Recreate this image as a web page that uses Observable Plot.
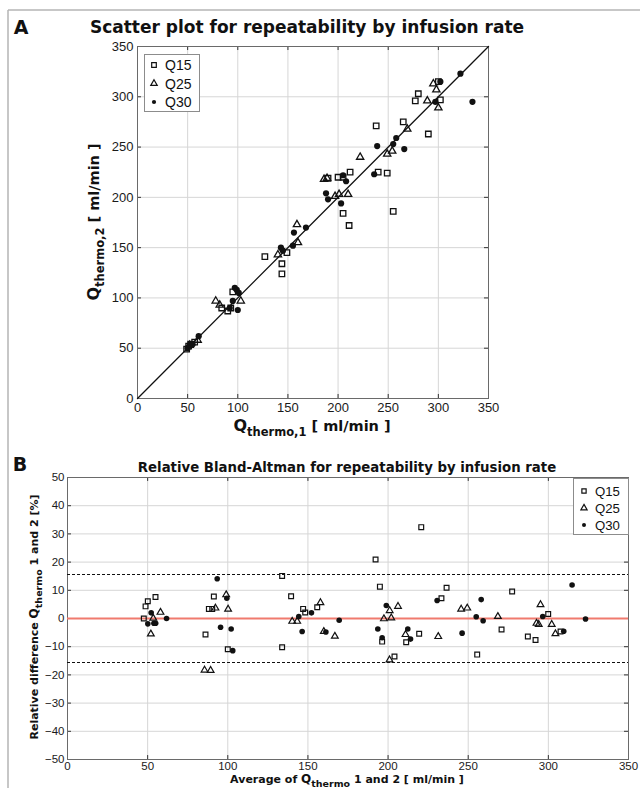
<!DOCTYPE html>
<html><head><meta charset="utf-8">
<script src="https://cdn.jsdelivr.net/npm/d3@7"></script>
<script src="https://cdn.jsdelivr.net/npm/@observablehq/plot@0.6"></script>
<style>
body{margin:0;background:#fff;}
#wrap{position:relative;width:640px;height:788px;overflow:hidden;background:#fff;}
#wrap svg{display:block;}
#overlay{position:absolute;left:0;top:0;pointer-events:none;}
</style></head><body><div id="wrap"></div>
<script>
// ---------- data ----------
const seriesNames = ["Q15", "Q25", "Q30"];

// Panel A: Qthermo,1 vs Qthermo,2 (ml/min)
const q15_thermo1 = [49, 51, 53, 57, 84, 90, 93, 95, 127, 144, 144, 149, 190, 200, 205, 212, 205, 211, 238, 240, 249, 255, 265, 277, 280, 290, 302, 300];
const q15_thermo2 = [49, 52, 54, 56, 90, 87, 90, 106, 141, 134, 124, 145, 219, 220, 220, 225, 184, 172, 271, 225, 224, 186, 275, 296, 303, 263, 297, 315];
const q25_thermo1 = [52, 60, 78, 82, 103, 140, 160, 159, 186, 189, 197, 201, 210, 222, 249, 254, 269, 289, 295, 298, 300];
const q25_thermo2 = [53, 58, 97, 93, 97, 143, 155, 173, 218, 219, 201, 203, 203, 240, 243, 246, 268, 296, 313, 307, 289];
const q30_thermo1 = [50, 52, 55, 61, 92, 95, 97, 99, 100, 101, 143, 145, 155, 156, 168, 188, 190, 203, 205, 208, 236, 239, 255, 258, 266, 297, 302, 322, 334];
const q30_thermo2 = [50, 53, 54, 62, 90, 97, 110, 108, 88, 105, 150, 147, 152, 165, 170, 204, 198, 194, 222, 216, 223, 251, 253, 259, 248, 295, 315, 323, 295];

// Panel B: Bland-Altman (mean ml/min, relative difference %)
const q15_mean = [47.6, 48.7, 50.1, 54.9, 86.1, 88.2, 90.3, 91.3, 100, 133.9, 133.9, 139.5, 147, 148.3, 155.8, 192.2, 194.9, 196.3, 204, 211.3, 219.4, 220.7, 233.3, 236.5, 255.6, 270.8, 277.4, 287.2, 292, 299.9, 307.6];
const q15_diff = [0, 4.3, 6.1, 7.6, -5.7, 3.4, 3.4, 7.8, -10.9, 15.1, -10.2, 7.9, 3.4, 2.1, 4.0, 20.9, 11.3, -8.2, -13.5, -8.4, -5.4, 32.4, 7.2, 10.9, -12.8, -3.9, 9.6, -6.4, -7.6, 1.6, -4.6];
const q25_mean = [52, 53.5, 58, 85.5, 89.3, 92.3, 99, 100.2, 140.2, 143.3, 157.8, 159.9, 166.8, 197.4, 200.9, 201, 202, 206.2, 210.9, 231.3, 245.6, 249.4, 268.5, 292.6, 294, 295.1, 302.1, 304.4];
const q25_diff = [-5.5, 0.1, 2.2, -18.3, -18.4, 3.7, 8.4, 3.3, -1.0, -1.0, 5.6, -4.6, -6.3, -0.1, -14.7, 2.8, 0.2, 4.3, -5.7, -6.4, 3.3, 3.7, 0.7, -1.7, -2.1, 4.9, -2.1, -5.4];
const q30_mean = [50.1, 52.2, 53.9, 55.0, 61.8, 93.4, 95.5, 99.4, 102.1, 103.1, 144.3, 146.4, 152.2, 161.2, 169.5, 193.6, 196.3, 198.9, 212.3, 214, 230.6, 246.2, 255, 258.1, 259.3, 296.5, 309.6, 314.8, 323.2];
const q30_diff = [-1.9, 2.0, -1.7, -1.7, 0, 14.1, -3.1, 7.2, -3.7, -11.4, 0.7, -4.6, 2.0, -4.8, -0.6, -3.7, -6.8, 4.6, -3.7, -7.3, 6.4, -5.2, 0.6, 6.7, -0.8, 0.7, -4.5, 11.9, -0.2];

const ticksQ = [0, 50, 100, 150, 200, 250, 300, 350];
const ticksPct = [-50, -40, -30, -20, -10, 0, 10, 20, 30, 40, 50];
const identityLine = [0, 350];
const baBias = [0];
const baLimits = [15.6, -15.6];

// ---------- helpers ----------
const pairs = (xs, ys) => xs.map((x, i) => ({x, y: ys[i]}));
const gridColor = "#d6d6d6";
const frameColor = "#6a6a6a";
const tickFont = "'Liberation Sans', Arial, sans-serif";
const boldFont = "'DejaVu Sans', Verdana, sans-serif";

const wrap = document.getElementById("wrap");

// ---------- Panel A ----------
const plotA = Plot.plot({
  width: 640, height: 440,
  marginLeft: 137, marginRight: 152, marginTop: 46, marginBottom: 42,
  x: {domain: [0, 350], label: null},
  y: {domain: [0, 350], label: null},
  style: {fontFamily: tickFont, fontSize: "13px", color: "#1a1a1a", background: "white"},
  marks: [
    Plot.gridX(ticksQ, {stroke: gridColor, strokeOpacity: 1}),
    Plot.gridY(ticksQ, {stroke: gridColor, strokeOpacity: 1}),
    Plot.ruleX(ticksQ, {x: d => d, y1: 0, y2: 4, stroke: "#333"}),
    Plot.ruleX(ticksQ, {x: d => d, y1: 346, y2: 350, stroke: "#333"}),
    Plot.ruleY(ticksQ, {y: d => d, x1: 0, x2: 4, stroke: "#333"}),
    Plot.ruleY(ticksQ, {y: d => d, x1: 346, x2: 350, stroke: "#333"}),
    Plot.frame({stroke: frameColor}),
    Plot.axisX(ticksQ, {tickSize: 0, tickPadding: 4, label: null}),
    Plot.axisY(ticksQ, {tickSize: 0, tickPadding: 4, label: null}),
    Plot.line(identityLine.map(v => [v, v]), {stroke: "#111", strokeWidth: 1.3}),
    Plot.dot(pairs(q15_thermo1, q15_thermo2), {x: "x", y: "y", symbol: "square", r: 3.1, stroke: "#111", strokeWidth: 1.3, fill: "none"}),
    Plot.dot(pairs(q25_thermo1, q25_thermo2), {x: "x", y: "y", symbol: "triangle", r: 2.7, stroke: "#111", strokeWidth: 1.3, fill: "none"}),
    Plot.dot(pairs(q30_thermo1, q30_thermo2), {x: "x", y: "y", symbol: "circle", r: 3.1, fill: "#111", stroke: "none"})
  ]
});
wrap.appendChild(plotA);

// ---------- Panel B ----------
const plotB = Plot.plot({
  width: 640, height: 348,
  marginLeft: 67, marginRight: 12, marginTop: 37, marginBottom: 29,
  x: {domain: [0, 350], label: null},
  y: {domain: [-50, 50], label: null},
  style: {fontFamily: tickFont, fontSize: "11.5px", color: "#1a1a1a", background: "white"},
  marks: [
    Plot.gridX(ticksQ, {stroke: gridColor, strokeOpacity: 1}),
    Plot.gridY(ticksPct, {stroke: gridColor, strokeOpacity: 1}),
    Plot.ruleX(ticksQ, {x: d => d, y1: -50, y2: -48.6, stroke: "#333"}),
    Plot.ruleX(ticksQ, {x: d => d, y1: 48.6, y2: 50, stroke: "#333"}),
    Plot.ruleY(ticksPct, {y: d => d, x1: 0, x2: 2.5, stroke: "#333"}),
    Plot.ruleY(ticksPct, {y: d => d, x1: 347.5, x2: 350, stroke: "#333"}),
    Plot.frame({stroke: frameColor}),
    Plot.axisX(ticksQ, {tickSize: 0, tickPadding: 2, label: null}),
    Plot.axisY(ticksPct, {tickSize: 0, tickPadding: 3, label: null, tickFormat: d => d < 0 ? "\u2212" + Math.abs(d) : String(d)}),
    Plot.ruleY(baLimits, {stroke: "#111", strokeWidth: 1.1, strokeDasharray: "3,2"}),
    Plot.ruleY(baBias, {stroke: "#f07a6e", strokeWidth: 1.8}),
    Plot.dot(pairs(q15_mean, q15_diff), {x: "x", y: "y", symbol: "square", r: 2.7, stroke: "#111", strokeWidth: 1.2, fill: "none"}),
    Plot.dot(pairs(q25_mean, q25_diff), {x: "x", y: "y", symbol: "triangle", r: 2.5, stroke: "#111", strokeWidth: 1.2, fill: "none"}),
    Plot.dot(pairs(q30_mean, q30_diff), {x: "x", y: "y", symbol: "circle", r: 2.8, fill: "#111", stroke: "none"})
  ]
});
wrap.appendChild(plotB);

// ---------- overlay: frame, titles, labels, legends ----------
const ov = d3.select(wrap).append("svg").attr("id", "overlay").attr("width", 640).attr("height", 788);
ov.append("line").attr("x1", 8).attr("x2", 640).attr("y1", 10).attr("y2", 10).attr("stroke", "#b5b5b5").attr("stroke-width", 1.5);
ov.append("line").attr("x1", 8).attr("x2", 8).attr("y1", 10).attr("y2", 788).attr("stroke", "#b5b5b5").attr("stroke-width", 1.5);

function txt(x, y, parts, {size, subSize, anchor = "middle", rotate = false, family = boldFont, weight = "bold"}) {
  const g = ov.append("g").attr("transform", rotate ? `translate(${x},${y}) rotate(-90)` : `translate(${x},${y})`);
  const t = g.append("text").attr("text-anchor", anchor).attr("font-family", family)
    .attr("font-weight", weight).attr("font-size", size).attr("fill", "#111");
  parts.forEach(p => {
    const ts = t.append("tspan").text(p.t);
    if (p.sub) ts.attr("font-size", subSize).attr("dy", subSize * 0.42);
    if (p.after) ts.attr("dy", -subSize * 0.42);
    if (p.big) ts.attr("font-size", p.big);
  });
  return t;
}

txt(21, 34, [{t: "A"}], {size: 19});
txt(307, 33, [{t: "Scatter plot for repeatability by infusion rate"}], {size: 17});
txt(312, 431, [{t: "Q", big: 16}, {t: "thermo,1", sub: true}, {t: " [ ml/min ]", after: true}], {size: 14.5, subSize: 11.5});
txt(99, 222, [{t: "Q", big: 16}, {t: "thermo,2", sub: true}, {t: " [ ml/min ]", after: true}], {size: 14.5, subSize: 11.5, rotate: true});

txt(20, 471, [{t: "B"}], {size: 19});
txt(347, 472, [{t: "Relative Bland-Altman for repeatability by infusion rate"}], {size: 13.3});
txt(347, 783, [{t: "Average of "}, {t: "Q", big: 12}, {t: "thermo", sub: true}, {t: " 1 and 2 [ ml/min ]", after: true}], {size: 11, subSize: 9.5});
txt(38, 617, [{t: "Relative difference "}, {t: "Q", big: 12}, {t: "thermo", sub: true}, {t: " 1 and 2 [%]", after: true}], {size: 11, subSize: 9.5, rotate: true});

function legend(x, y, w, h, rowYs, symX, textX, fs, rs) {
  ov.append("rect").attr("x", x + 0.5).attr("y", y + 0.5).attr("width", w).attr("height", h)
    .attr("fill", "white").attr("stroke", "#8c8c8c");
  const types = [d3.symbolSquare, d3.symbolTriangle, d3.symbolCircle];
  seriesNames.forEach((name, i) => {
    const filled = i === 2;
    ov.append("path").attr("transform", `translate(${symX},${rowYs[i]})`)
      .attr("d", d3.symbol().type(types[i]).size(rs[i] * rs[i] * Math.PI)())
      .attr("fill", filled ? "#111" : "none").attr("stroke", filled ? "none" : "#111").attr("stroke-width", 1.2);
    ov.append("text").attr("x", textX).attr("y", rowYs[i]).attr("dy", "0.36em")
      .attr("font-family", tickFont).attr("font-size", fs).attr("fill", "#111").text(name);
  });
}
legend(144, 54, 55, 57, [65, 83.5, 102], 154, 165, 14, [2.6, 2.4, 2.1]);
legend(573, 478, 55, 56, [491, 508, 525], 584, 595, 13.2, [2.4, 2.3, 2.0]);
</script></body></html>
